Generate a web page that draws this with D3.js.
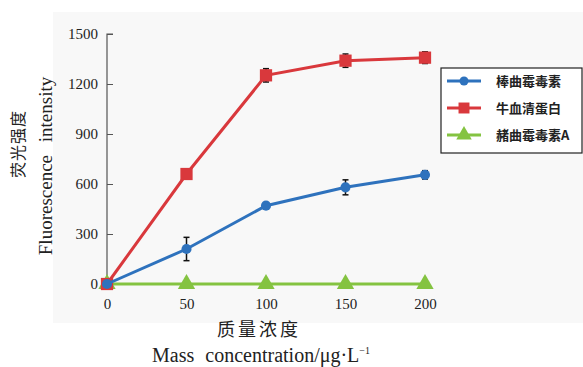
<!DOCTYPE html>
<html>
<head>
<meta charset="utf-8">
<script src="https://cdn.jsdelivr.net/npm/d3@7"></script>
<style>
  body { margin: 0; background: #fff; }
  svg text { font-family: "Liberation Serif", "Times New Roman", serif; }
  .cjk { font-family: "Noto Sans CJK SC", sans-serif; }
</style>
</head>
<body>
<div id="chart"></div>
<script>
// data
const concentrations = [0, 50, 100, 150, 200];
const seriesNames = ['棒曲霉毒素', '牛血清蛋白', '赭曲霉毒素A'];
const patulin = [0, 210, 470, 580, 655];
const patulinErr = [0, 70, 15, 45, 25];
const bsa = [0, 660, 1252, 1340, 1358];
const bsaErr = [0, 30, 40, 40, 35];
const ochratoxin = [0, 0, 0, 0, 0];
const ochratoxinErr = [0, 0, 0, 0, 0];
const yTicks = [0, 300, 600, 900, 1200, 1500];
const xTicks = [0, 50, 100, 150, 200];

const colors = ['#2e72bd', '#d9383c', '#84c341'];
const shapes = [d3.symbolCircle, d3.symbolSquare, d3.symbolTriangle];
const sizes = [80, 150, 130];

const width = 583, height = 367;
const svg = d3.select('#chart').append('svg')
  .attr('width', width)
  .attr('height', height);

// light panel behind the plot
svg.append('rect')
  .attr('x', 53).attr('y', 12)
  .attr('width', 530).attr('height', 311)
  .attr('fill', '#f8f8f8');

const x = d3.scaleLinear().domain([0, 200]).range([107, 425]);
const y = d3.scaleLinear().domain([0, 1500]).range([284, 34]);

// y axis, ticks pointing inward
const yAxis = svg.append('g')
  .attr('transform', 'translate(107,0)')
  .call(d3.axisRight(y).tickValues(yTicks).tickSize(6).tickFormat(d => d));
yAxis.select('.domain').attr('stroke', '#555').attr('stroke-width', 1.2)
  .attr('d', `M6,${y(1500)}H0V${y(0)}`);
yAxis.selectAll('.tick line').attr('stroke', '#555');
yAxis.selectAll('.tick text')
  .attr('x', -9).attr('text-anchor', 'end')
  .attr('font-size', 15).attr('fill', '#222');

// x axis labels only
const xAxis = svg.append('g')
  .attr('transform', 'translate(0,284)')
  .call(d3.axisBottom(x).tickValues(xTicks).tickSize(0).tickPadding(14));
xAxis.select('.domain').remove();
xAxis.selectAll('.tick text').attr('font-size', 15).attr('fill', '#222');

const series = [
  {name: seriesNames[0], values: patulin, err: patulinErr},
  {name: seriesNames[1], values: bsa, err: bsaErr},
  {name: seriesNames[2], values: ochratoxin, err: ochratoxinErr}
];

const line = d3.line()
  .x((d, i) => x(concentrations[i]))
  .y(d => y(d));

// draw green first so red/blue sit on top like the original
const drawOrder = [2, 1, 0];
drawOrder.forEach(k => {
  const s = series[k];
  svg.append('path')
    .datum(s.values)
    .attr('fill', 'none')
    .attr('stroke', colors[k])
    .attr('stroke-width', 3)
    .attr('d', line);

  // error bars
  const eb = svg.append('g');
  s.values.forEach((v, i) => {
    if (!s.err[i]) return;
    const cx = x(concentrations[i]);
    const y1 = y(v + s.err[i]), y2 = y(v - s.err[i]);
    eb.append('line').attr('x1', cx).attr('x2', cx).attr('y1', y1).attr('y2', y2)
      .attr('stroke', '#111').attr('stroke-width', 1.5);
    [y1, y2].forEach(yy => eb.append('line')
      .attr('x1', cx - 3).attr('x2', cx + 3).attr('y1', yy).attr('y2', yy)
      .attr('stroke', '#111').attr('stroke-width', 1.5));
  });

  svg.append('g').selectAll('path')
    .data(s.values)
    .enter().append('path')
    .attr('transform', (d, i) => `translate(${x(concentrations[i])},${y(d)})`)
    .attr('d', d3.symbol().type(shapes[k]).size(sizes[k]))
    .attr('fill', colors[k]);
});

// legend
const legend = svg.append('g').attr('transform', 'translate(441,68)');
legend.append('rect')
  .attr('width', 141).attr('height', 85)
  .attr('fill', '#fff').attr('stroke', '#222').attr('stroke-width', 1.2);
const items = legend.selectAll('.legend-item')
  .data(series)
  .enter().append('g')
  .attr('transform', (d, i) => `translate(0,${13 + i * 27})`);
items.append('line')
  .attr('x1', 6).attr('x2', 40)
  .attr('stroke', (d, i) => colors[i]).attr('stroke-width', 3);
items.append('path')
  .attr('transform', 'translate(23,0)')
  .attr('d', (d, i) => d3.symbol().type(shapes[i]).size(sizes[i] * 0.8)())
  .attr('fill', (d, i) => colors[i]);
items.append('text')
  .attr('class', 'cjk')
  .attr('x', 55).attr('dy', '0.35em')
  .attr('font-size', 13).attr('font-weight', 'bold').attr('fill', '#222')
  .text(d => d.name);

// axis titles
svg.append('text')
  .attr('class', 'cjk')
  .attr('transform', 'translate(24,144) rotate(-90)')
  .attr('text-anchor', 'middle').attr('font-size', 16).attr('fill', '#222')
  .attr('letter-spacing', 1)
  .text('荧光强度');
svg.append('text')
  .attr('transform', 'translate(52,166) rotate(-90)')
  .attr('text-anchor', 'middle').attr('font-size', 19).attr('fill', '#222')
  .attr('word-spacing', 8)
  .text('Fluorescence intensity');

svg.append('text')
  .attr('class', 'cjk')
  .attr('x', 259).attr('y', 336)
  .attr('text-anchor', 'middle').attr('font-size', 18).attr('fill', '#222')
  .attr('letter-spacing', 3)
  .text('质量浓度');
const xt = svg.append('text')
  .attr('x', 261).attr('y', 362)
  .attr('text-anchor', 'middle').attr('font-size', 20).attr('fill', '#222')
  .attr('word-spacing', 6);
xt.append('tspan').text('Mass concentration/μg·L');
xt.append('tspan').attr('dy', -8).attr('font-size', 10).text('−1');
</script>
</body>
</html>
